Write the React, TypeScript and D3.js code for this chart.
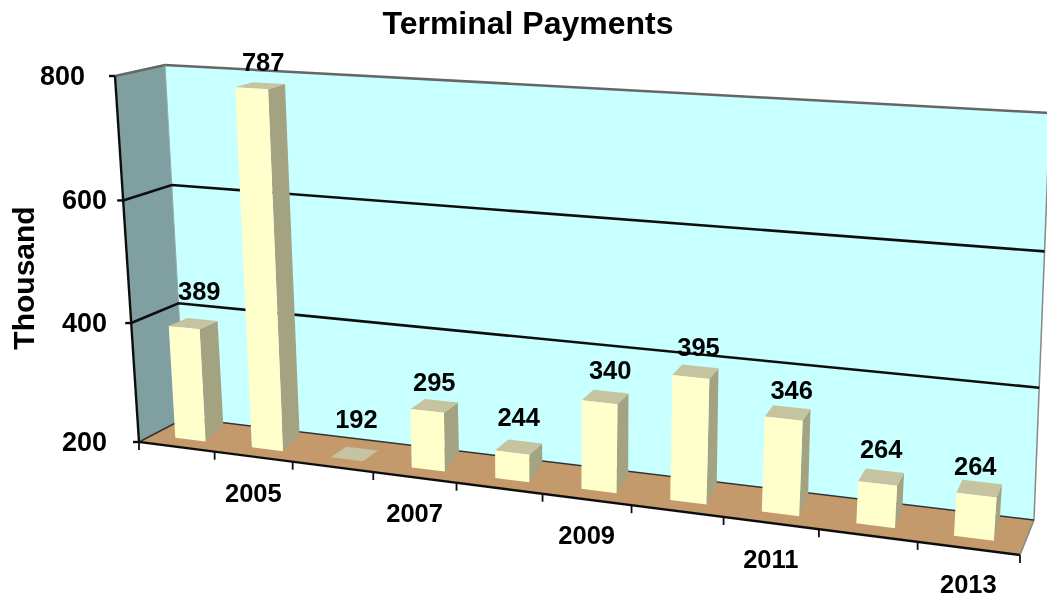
import React from "react";
import * as d3 from "d3";

const years = ["2004","2005","2006","2007","2008","2009","2010","2011","2012","2013"];
const values = [389,787,192,295,244,340,395,346,264,264];
const yTicks = [200,400,600,800];
const yearLabels = ["2005","2007","2009","2011","2013"];

type P = [number, number];
// corners of the 3D box on screen
const FLB: P = [139,442], FLT: P = [115,76], BLB: P = [185,418], BLT: P = [165,65];
const FRB: P = [1020,555], FRT: P = [1052,135], BRB: P = [1034,520], BRT: P = [1050,113];
// small manual label placement corrections, per bar
const labelDx = [0,-3,-4,-6,-6,-1,-3,-2,-6,-10];
const labelDy = [-9,0,-11,0,-6,-3,-1,1,-4,1];

const lerp = (a: P, b: P, t: number): P => [a[0]+(b[0]-a[0])*t, a[1]+(b[1]-a[1])*t];
// perspective widening along the front edge
const warp = (t: number, k: number) => t/(t+k*(1-t));
const project = (u: number, v: number, h: number, k = 1.183): P => {
  const x = warp(u,k);
  const f = lerp(lerp(FLB,FRB,x), lerp(FLT,FRT,x), h);
  const b = lerp(lerp(BLB,BRB,x), lerp(BLT,BRT,x), h);
  return lerp(f,b,v);
};
const hScale = d3.scaleLinear().domain(yTicks).range([0,0.325,0.66,1]).clamp(true);
const band = d3.scaleBand<string>().domain(years).range([0,1]).paddingInner(0.6).paddingOuter(0.3);
const slot = d3.scaleBand<string>().domain(years).range([0,1]);
const path = (pts: P[]) => d3.line()(pts)! + "Z";

const V0 = 0.3, V1 = 0.7, VBASE = 0.97, BAR_K = 1.165;
const FONT = "'Liberation Sans', Arial, sans-serif";

export default function App() {
  const gridLines = yTicks.slice(1,3);
  return (
    <svg width={1047} height={598} style={{position:"absolute",left:0,top:0,display:"block"}}>
      <defs>
        <filter id="soft" x="-5%" y="-5%" width="110%" height="110%"><feGaussianBlur stdDeviation="0.7"/></filter>
        <filter id="softText" x="-5%" y="-5%" width="110%" height="110%"><feGaussianBlur stdDeviation="0.35"/></filter>
      </defs>
      <g filter="url(#soft)">
        <path d={path([BRT,BLT,BLB,BRB])} fill="#C8FFFF" />
        <path d={path([BLT,FLT,FLB,BLB])} fill="#7F9FA0" />
        <path d={path([FLB,BLB,BRB,FRB])} fill="#C49A6C" />
        <path d={d3.line()([FLT,BLT,BRT])!} fill="none" stroke="#666" strokeWidth={2.5}/>
        <path d={d3.line()([BLT,BLB])!} fill="none" stroke="#9aa" strokeWidth={1}/>
        <path d={d3.line()([BRT,BRB,FRB])!} fill="none" stroke="#888" strokeWidth={1.5}/>
        <path d={d3.line()([FLB,BLB,BRB])!} fill="none" stroke="#333" strokeWidth={1.5}/>
        {gridLines.map(t => {
          const h = hScale(t);
          return <path key={t} d={d3.line()([project(0,0,h),project(0,1,h),project(1,1,h)])!} fill="none" stroke="#111" strokeWidth={2.6}/>;
        })}
        {years.map((y,i) => {
          const a = band(y)!, b = a+band.bandwidth();
          const h = hScale(values[i]);
          const f0 = project(a,V0,h,BAR_K), f1 = project(b,V0,h,BAR_K), b0 = project(a,V1,h,BAR_K), b1 = project(b,V1,h,BAR_K);
          const g0 = project(a,V0,0,BAR_K), g1 = project(b,V0,0,BAR_K);
          const gb: P = [project(b,V1,0,BAR_K)[0], project(b,VBASE,0,BAR_K)[1]];
          return <g key={y}>
            {h > 0 && <path d={path([f1,b1,gb,g1])} fill="#A3A382"/>}
            <path d={path([f0,b0,b1,f1])} fill="#C6C4A0"/>
            {h > 0 && <path d={path([f0,f1,g1,g0])} fill="#FFFFCC"/>}
          </g>;
        })}
        <path d={d3.line()([FLT,FLB,FRB])!} fill="none" stroke="#111" strokeWidth={2.4}/>
        {yTicks.map(t => { const p = project(0,0,hScale(t)); return <line key={t} x1={p[0]-6} x2={p[0]} y1={p[1]} y2={p[1]} stroke="#111" strokeWidth={2.4}/>; })}
        {d3.range(0,11).map(i => { const p = project(i/10,0,0); return <line key={i} x1={p[0]} x2={p[0]} y1={p[1]} y2={p[1]+8} stroke="#111" strokeWidth={1.8}/>; })}
      </g>
      <g fontFamily={FONT} fontWeight="bold" fill="#000" filter="url(#softText)">
        <text x={528} y={34} fontSize={32} textAnchor="middle">Terminal Payments</text>
        {yTicks.map(t => { const p = project(0,0,hScale(t));
          return <text key={t} x={t===800?85:107} y={p[1]+9} fontSize={27} textAnchor="end">{t}</text>; })}
        <text transform="translate(34,278) rotate(-90)" fontSize={30} textAnchor="middle">Thousand</text>
        {yearLabels.map(y => { const p = project(slot(y)!+slot.bandwidth()/2,0,0);
          return <text key={y} x={p[0]} y={p[1]+45} fontSize={25.5} textAnchor="middle">{y}</text>; })}
        {years.map((y,i) => { const u = band(y)!+band.bandwidth()/2; const p = project(u,0.5,hScale(values[i]),BAR_K);
          return <text key={y} x={p[0]+6+labelDx[i]} y={p[1]-15+labelDy[i]} fontSize={25.5} textAnchor="middle">{values[i]}</text>; })}
      </g>
    </svg>
  );
}
